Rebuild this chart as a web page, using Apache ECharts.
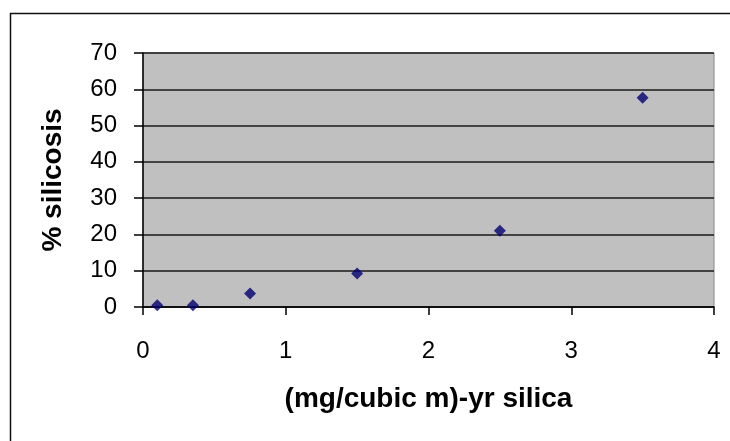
<!DOCTYPE html>
<html><head><meta charset="utf-8">
<script src="https://cdn.jsdelivr.net/npm/echarts@6/dist/echarts.min.js"></script>
<style>html,body{margin:0;padding:0;background:#fff}#c{width:730px;height:441px}</style>
</head><body><div id="c"></div>
<script>
const exposure = [0.1, 0.35, 0.75, 1.5, 2.5, 3.5];
const silicosis = [0.5, 0.5, 3.7, 9.2, 21.0, 57.7];
const xTicks = [0, 1, 2, 3, 4];
const yTicks = [0, 10, 20, 30, 40, 50, 60, 70];
const xName = '(mg/cubic m)-yr silica';
const yName = '% silicosis';

const chart = echarts.init(document.getElementById('c'), null, {renderer: 'canvas'});
const font = '"Liberation Sans", Arial, sans-serif';
chart.setOption({
  animation: false,
  backgroundColor: '#fff',
  graphic: [{
    type: 'rect', left: 8, top: 11, z: 100,
    shape: {width: 740, height: 450},
    style: {fill: 'none', stroke: '#111', lineWidth: 1.5}
  }],
  grid: {left: 143, right: 16, top: 53, bottom: 134, show: true,
    backgroundColor: '#c0c0c0', borderColor: '#888', borderWidth: 1},
  xAxis: {
    type: 'value', min: xTicks[0], max: xTicks[xTicks.length - 1], interval: 1,
    name: xName, nameLocation: 'middle', nameGap: 78,
    nameTextStyle: {fontFamily: font, fontWeight: 'bold', fontSize: 28, color: '#000'},
    axisLine: {show: true, lineStyle: {color: '#000', width: 1.5}},
    axisTick: {show: true, inside: false, length: 8, lineStyle: {color: '#000', width: 1.5}},
    axisLabel: {fontFamily: font, fontSize: 24, color: '#000', margin: 32},
    splitLine: {show: false}
  },
  yAxis: {
    type: 'value', min: yTicks[0], max: yTicks[yTicks.length - 1], interval: 10,
    name: yName, nameLocation: 'middle', nameGap: 76, nameRotate: 90,
    nameTextStyle: {fontFamily: font, fontWeight: 'bold', fontSize: 28, color: '#000'},
    axisLine: {show: true, lineStyle: {color: '#000', width: 1.5}},
    axisTick: {show: true, inside: false, length: 9, lineStyle: {color: '#000', width: 1.5}},
    axisLabel: {fontFamily: font, fontSize: 24, color: '#000', margin: 26},
    splitLine: {show: true, lineStyle: {color: '#1a1a1a', width: 1.5}}
  },
  series: [{
    type: 'scatter', symbol: 'diamond', symbolSize: 12,
    itemStyle: {color: '#000070'},
    data: exposure.map((x, i) => [x, silicosis[i]])
  }]
});
</script></body></html>
